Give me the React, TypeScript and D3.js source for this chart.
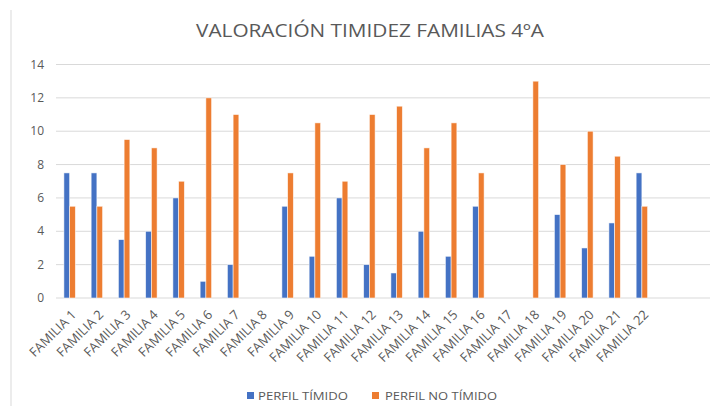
import * as d3 from 'd3'

const categories = [
  'FAMILIA 1', 'FAMILIA 2', 'FAMILIA 3', 'FAMILIA 4', 'FAMILIA 5', 'FAMILIA 6',
  'FAMILIA 7', 'FAMILIA 8', 'FAMILIA 9', 'FAMILIA 10', 'FAMILIA 11', 'FAMILIA 12',
  'FAMILIA 13', 'FAMILIA 14', 'FAMILIA 15', 'FAMILIA 16', 'FAMILIA 17', 'FAMILIA 18',
  'FAMILIA 19', 'FAMILIA 20', 'FAMILIA 21', 'FAMILIA 22', '', ' ',
]
const timido = [7.5, 7.5, 3.5, 4, 6, 1, 2, 0, 5.5, 2.5, 6, 2, 1.5, 4, 2.5, 5.5, 0, 0, 5, 3, 4.5, 7.5, 0, 0]
const noTimido = [5.5, 5.5, 9.5, 9, 7, 12, 11, 0, 7.5, 10.5, 7, 11, 11.5, 9, 10.5, 7.5, 0, 13, 8, 10, 8.5, 5.5, 0, 0]
const yTicks = [0, 2, 4, 6, 8, 10, 12, 14]
const seriesNames = ['PERFIL TÍMIDO', 'PERFIL NO TÍMIDO']

const W = 718
const H = 406
const BLUE = '#4472C4'
const ORANGE = '#ED7D31'
const TEXT = '#595959'
const GRID = '#D9D9D9'
const FONT = "'Open Sans', 'Liberation Sans', sans-serif"

export default function App() {
  const margin = { left: 56, right: 8, top: 64, bottom: 108 }
  const x = d3.scaleBand().domain(categories).range([margin.left, W - margin.right]).paddingInner(0.58).paddingOuter(0.29)
  const xs = d3.scaleBand().domain(['t', 'n']).range([0, x.bandwidth()])
  const y = d3.scaleLinear().domain([0, 14]).range([H - margin.bottom, margin.top + 0.5])
  const series = [
    { key: 't', values: timido, color: BLUE },
    { key: 'n', values: noTimido, color: ORANGE },
  ]

  return (
    <svg width={W} height={H} style={{ position: 'absolute', left: 0, top: 0, background: '#fff' }}>
      <line x1={11} x2={11} y1={10} y2={H} stroke={GRID} strokeWidth={1} />
      <text x={370} y={37} textAnchor="middle" fontFamily={FONT} fontSize={19} fill={TEXT}
        textLength={348} lengthAdjust="spacingAndGlyphs">
        VALORACIÓN TIMIDEZ FAMILIAS 4ºA
      </text>

      {yTicks.map((t) => (
        <g key={t}>
          <line x1={margin.left} x2={W - margin.right} y1={y(t)} y2={y(t)} stroke={GRID} strokeWidth={1} />
          <text x={44} y={y(t)} dy="0.35em" textAnchor="end" fontFamily={FONT} fontSize={12} fill={TEXT}>{t}</text>
        </g>
      ))}

      {series.map((s) => (
        <g key={s.key}>
          {s.values.map((v, i) => v > 0 ? (
            <rect key={i}
              x={(x(categories[i]) ?? 0) + (xs(s.key) ?? 0)}
              y={y(v)}
              width={xs.bandwidth()}
              height={y(0) - y(v)}
              fill={s.color}
              stroke="#fff"
              strokeOpacity={0.7}
              strokeWidth={0.75}
            />
          ) : null)}
        </g>
      ))}

      {categories.map((c) => {
        const cx = (x(c) ?? 0) + x.bandwidth() / 2 + 5
        const cy = 313
        return (
          <text key={c} x={cx} y={cy} textAnchor="end" dominantBaseline="middle"
            transform={`rotate(-45 ${cx} ${cy})`} fontFamily={FONT} fontSize={13} fill={TEXT}>
            {c.trim()}
          </text>
        )
      })}

      <rect x={247} y={392} width={7} height={7} fill={BLUE} />
      <text x={258} y={396} dy="0.35em" fontFamily={FONT} fontSize={11.5} fill={TEXT}
        textLength={90} lengthAdjust="spacingAndGlyphs">{seriesNames[0]}</text>
      <rect x={372} y={392} width={7} height={7} fill={ORANGE} />
      <text x={385} y={396} dy="0.35em" fontFamily={FONT} fontSize={11.5} fill={TEXT}
        textLength={112} lengthAdjust="spacingAndGlyphs">{seriesNames[1]}</text>
    </svg>
  )
}
